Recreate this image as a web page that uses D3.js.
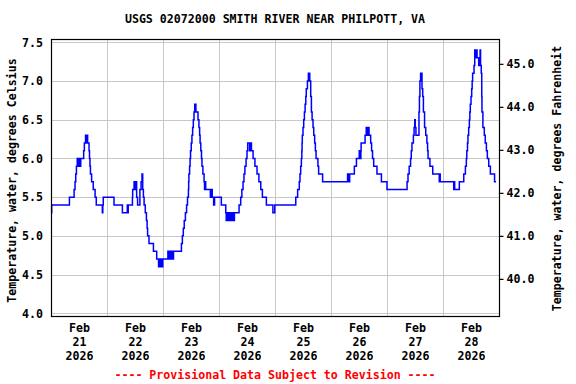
<!DOCTYPE html>
<html>
<head>
<meta charset="utf-8">
<script src="https://cdn.jsdelivr.net/npm/d3@7"></script>
<style>
  body { margin: 0; background: #fff; }
  text { font-family: "DejaVu Sans Mono", monospace; font-weight: bold; font-size: 11.6px; fill: #000; }
</style>
</head>
<body>
<div id="chart"></div>
<script>
// data: hours since Feb 21 00:00 where the reading changes, and the reading (deg C)
var stepHours = [0, 0.3, 7.9, 9.9, 10.3, 10.6, 10.9, 11.25, 11.5, 11.75, 12.0, 12.25, 12.5, 12.75,
  14.0, 14.3, 14.8, 15.0, 15.2, 15.7, 16.3, 16.5, 16.7, 16.9, 17.4, 18.1, 18.9, 19.4,
  22.0, 22.2, 22.4, 27.0, 30.6, 32.7, 32.9, 33.1, 34.9, 35.0, 35.6, 35.8, 36.0, 36.2, 36.4,
  36.7, 37.1, 38.1, 38.6, 39.0, 39.3, 39.6, 39.9, 40.4, 40.9, 41.2, 41.4, 42.0, 43.9, 45.3, 46.1,
  46.7, 47.0, 47.3, 47.6, 47.9, 50.1, 50.4, 50.7, 51.0, 51.3, 51.6, 51.9, 52.2, 52.5, 53.0,
  55.9, 56.3, 56.7, 57.1, 57.6, 58.1, 58.5, 58.9, 59.0, 59.1, 59.4, 59.6, 59.8, 60.1, 60.4, 60.7,
  61.0, 61.3, 61.6, 61.75, 61.9, 62.1, 63.0, 63.4, 63.7, 63.9, 64.2, 64.5, 64.7, 65.1, 65.6, 65.8,
  66.0, 66.3, 68.3, 68.5, 68.7, 68.9, 69.1, 69.7, 70.1, 73.0, 74.9,
  75.1, 75.5, 75.8, 76.2, 76.6, 77.0, 77.4, 77.8, 78.2, 78.6, 79.1,
  80.6, 81.3, 81.8, 82.3, 82.7, 83.1, 83.6, 84.0, 84.3, 85.1, 85.3, 85.5, 85.7, 85.9,
  86.6, 87.4, 88.3, 89.1, 89.9, 90.6, 92.3, 95.1, 95.9,
  104.9, 105.7, 106.4, 106.7, 107.0, 107.3, 107.5, 107.6, 107.7, 108.0, 108.3, 108.6, 108.9,
  109.2, 109.4, 109.9, 110.3, 110.5, 110.7, 110.9, 111.3, 111.6, 111.9, 112.3, 112.6, 113.0,
  113.3, 113.6, 114.4, 114.7, 116.4, 127.1, 127.3, 127.5, 127.7, 128.0, 130.0, 130.9,
  132.1, 132.3, 132.5, 132.7, 132.8, 132.9, 134.6, 135.1, 135.3, 135.5, 135.7, 135.9, 136.3,
  137.0, 137.4, 137.8, 138.3, 139.7, 141.6, 144.0,
  152.6, 153.0, 153.5, 154.1, 154.4, 154.7, 155.3, 155.6, 155.9, 156.1, 156.4, 157.7, 157.9,
  158.1, 158.4, 159.0, 159.3, 159.6, 160.1, 160.6, 161.1, 161.4, 161.6, 162.4, 163.6,
  166.4, 166.6, 166.8, 167.0, 172.6, 172.8, 173.0, 175.0, 176.9, 177.6, 178.0, 178.2, 178.5,
  178.7, 179.0, 179.3, 179.5, 179.7, 180.0, 180.3, 180.5, 180.7, 181.3,
  181.6, 181.8, 182.0, 182.2, 182.4, 182.6, 183.3, 183.5, 183.7, 183.9, 184.1,
  184.4, 184.6, 184.7, 185.1, 185.7, 186.1, 186.6, 187.0, 187.6, 188.3, 190.1, 190.75];
var tempC = [5.3, 5.4, 5.5, 5.6, 5.7, 5.8, 5.9, 6.0, 5.9, 6.0, 5.9, 6.0, 5.9, 6.0,
  6.1, 6.2, 6.3, 6.2, 6.3, 6.2, 6.1, 6.0, 5.9, 5.8, 5.7, 5.6, 5.5, 5.4,
  5.3, 5.4, 5.5, 5.4, 5.3, 5.4, 5.3, 5.4, 5.5, 5.6, 5.7, 5.6, 5.7, 5.6, 5.7,
  5.5, 5.4, 5.6, 5.7, 5.8, 5.6, 5.5, 5.4, 5.3, 5.2, 5.1, 5.0, 4.9, 4.8, 4.7, 4.6,
  4.7, 4.6, 4.7, 4.6, 4.7, 4.8, 4.7, 4.8, 4.7, 4.8, 4.7, 4.8, 4.7, 4.8, 4.8,
  4.9, 5.0, 5.1, 5.2, 5.3, 5.4, 5.5, 5.6, 5.7, 5.8, 5.9, 6.0, 6.1, 6.2, 6.3, 6.4,
  6.5, 6.6, 6.7, 6.6, 6.7, 6.6, 6.5, 6.4, 6.3, 6.2, 6.1, 6.0, 5.9, 5.8, 5.7, 5.6,
  5.7, 5.6, 5.5, 5.6, 5.5, 5.6, 5.5, 5.4, 5.5, 5.4, 5.3,
  5.2, 5.3, 5.2, 5.3, 5.2, 5.3, 5.2, 5.3, 5.2, 5.3, 5.3,
  5.4, 5.5, 5.6, 5.7, 5.8, 5.9, 6.0, 6.1, 6.2, 6.1, 6.2, 6.1, 6.2, 6.1,
  6.0, 5.9, 5.8, 5.7, 5.6, 5.5, 5.4, 5.3, 5.4,
  5.5, 5.6, 5.7, 5.8, 5.9, 6.0, 6.1, 6.2, 6.3, 6.4, 6.5, 6.6, 6.7,
  6.8, 6.9, 7.0, 7.1, 7.0, 7.1, 7.0, 6.8, 6.6, 6.5, 6.4, 6.3, 6.2,
  6.1, 6.0, 5.9, 5.8, 5.7, 5.8, 5.7, 5.8, 5.7, 5.8, 5.9, 6.0,
  6.1, 6.0, 6.1, 6.0, 6.1, 6.2, 6.3, 6.4, 6.3, 6.4, 6.3, 6.4, 6.3,
  6.2, 6.1, 6.0, 5.9, 5.8, 5.7, 5.6,
  5.7, 5.8, 5.9, 6.0, 6.1, 6.2, 6.3, 6.4, 6.5, 6.4, 6.3, 6.6, 6.8,
  7.0, 7.1, 6.9, 6.8, 6.6, 6.4, 6.3, 6.2, 6.1, 6.0, 5.9, 5.8,
  5.7, 5.8, 5.7, 5.7, 5.6, 5.7, 5.6, 5.7, 5.8, 5.9, 6.0, 6.1, 6.2,
  6.3, 6.4, 6.5, 6.6, 6.7, 6.8, 6.9, 7.0, 7.1, 7.2,
  7.4, 7.3, 7.4, 7.3, 7.4, 7.3, 7.2, 7.3, 7.2, 7.4, 7.2,
  7.1, 6.8, 6.6, 6.4, 6.3, 6.2, 6.1, 6.0, 5.9, 5.8, 5.7, 5.7];

var celsiusTicks = [4.0, 4.5, 5.0, 5.5, 6.0, 6.5, 7.0, 7.5];
var fahrenheitTicks = [40, 41, 42, 43, 44, 45];
var dayLabels = ["21", "22", "23", "24", "25", "26", "27", "28"];
var monthLabel = "Feb";
var yearLabel = "2026";

var titleText = "USGS 02072000 SMITH RIVER NEAR PHILPOTT, VA";
var leftTitle = "Temperature, water, degrees Celsius";
var rightTitle = "Temperature, water, degrees Fahrenheit";
var footText = "---- Provisional Data Subject to Revision ----";

//chart set ups
var svgWidth = 576;
var svgHeight = 384;
var plot = { left: 51, right: 499, top: 39, bottom: 316 };

var svg = d3.select('#chart')
  .append('svg')
  .attr('width', svgWidth)
  .attr('height', svgHeight);

var start = new Date(2026, 1, 21);
var end = new Date(2026, 2, 1);
var hourToDate = h => new Date(start.getTime() + h * 3600 * 1000);

var x = d3.scaleTime().domain([start, end]).range([plot.left, plot.right]);
var y = d3.scaleLinear().domain([3.965, 7.543]).range([plot.bottom, plot.top]);
var yF = d3.scaleLinear().domain([3.965 * 1.8 + 32, 7.543 * 1.8 + 32]).range([plot.bottom, plot.top]);

// grid
var days = d3.timeDay.range(d3.timeDay.offset(start, 1), end);
svg.append('g').selectAll('line.v')
  .data(days).enter().append('line')
  .attr('x1', d => x(d) + 0.5).attr('x2', d => x(d) + 0.5)
  .attr('y1', plot.top).attr('y2', plot.bottom)
  .attr('stroke', '#c8c8c8').attr('stroke-width', 1);
svg.append('g').selectAll('line.h')
  .data(celsiusTicks).enter().append('line')
  .attr('x1', plot.left).attr('x2', plot.right)
  .attr('y1', d => Math.round(y(d)) + 0.5).attr('y2', d => Math.round(y(d)) + 0.5)
  .attr('stroke', '#c8c8c8').attr('stroke-width', 1);

// the series
var series = stepHours.map((h, i) => ({ t: hourToDate(h), v: tempC[i] }));
var line = d3.line()
  .x(d => x(d.t))
  .y(d => y(d.v))
  .curve(d3.curveStepAfter);
svg.append('path')
  .datum(series)
  .attr('d', line)
  .attr('fill', 'none')
  .attr('stroke', '#0000ff')
  .attr('stroke-width', 1.5);

// frame
svg.append('rect')
  .attr('x', plot.left + 0.5).attr('y', plot.top + 0.5)
  .attr('width', plot.right - plot.left).attr('height', plot.bottom - plot.top)
  .attr('fill', 'none').attr('stroke', '#000').attr('stroke-width', 1.2);

// left axis (labels only)
var leftAxis = d3.axisLeft(y).tickValues(celsiusTicks).tickFormat(d3.format('.1f')).tickSize(0).tickPadding(8);
var gl = svg.append('g').attr('transform', `translate(${plot.left},0)`).call(leftAxis);
gl.select('.domain').remove();
gl.selectAll('text').attr('font-size', null).attr('font-family', null);

// right axis, fahrenheit
var rightAxis = d3.axisRight(yF).tickValues(fahrenheitTicks).tickFormat(d3.format('.1f')).tickSize(4).tickPadding(3);
var gr = svg.append('g').attr('transform', `translate(${plot.right + 0.5},0)`).call(rightAxis);
gr.select('.domain').remove();
gr.selectAll('line').attr('stroke', '#000').attr('stroke-width', 1.2);
gr.selectAll('text').attr('font-size', null).attr('font-family', null);

// bottom labels at noon of each day
var noons = dayLabels.map((d, i) => hourToDate(12 + 24 * i));
var bottomAxis = d3.axisBottom(x).tickValues(noons).tickSize(0).tickFormat('');
var gb = svg.append('g').attr('transform', `translate(0,${plot.bottom})`).call(bottomAxis);
gb.select('.domain').remove();
gb.selectAll('.tick').each(function(d, i) {
  var t = d3.select(this).select('text')
    .attr('font-size', null).attr('font-family', null)
    .attr('y', 0).attr('dy', null);
  t.append('tspan').attr('x', 0).attr('y', 16).text(monthLabel);
  t.append('tspan').attr('x', 0).attr('y', 30).text(dayLabels[i]);
  t.append('tspan').attr('x', 0).attr('y', 44).text(yearLabel);
});

// titles
svg.append('text')
  .attr('x', 275).attr('y', 23)
  .attr('text-anchor', 'middle')
  .text(titleText);
svg.append('text')
  .attr('transform', `translate(16,${(plot.top + plot.bottom) / 2 + 3}) rotate(-90)`)
  .attr('text-anchor', 'middle')
  .text(leftTitle);
svg.append('text')
  .attr('transform', `translate(561,${(plot.top + plot.bottom) / 2 + 1}) rotate(-90)`)
  .attr('text-anchor', 'middle')
  .text(rightTitle);
svg.append('text')
  .attr('x', 275).attr('y', 379)
  .attr('text-anchor', 'middle')
  .style('fill', '#ff0000')
  .text(footText);
</script>
</body>
</html>
